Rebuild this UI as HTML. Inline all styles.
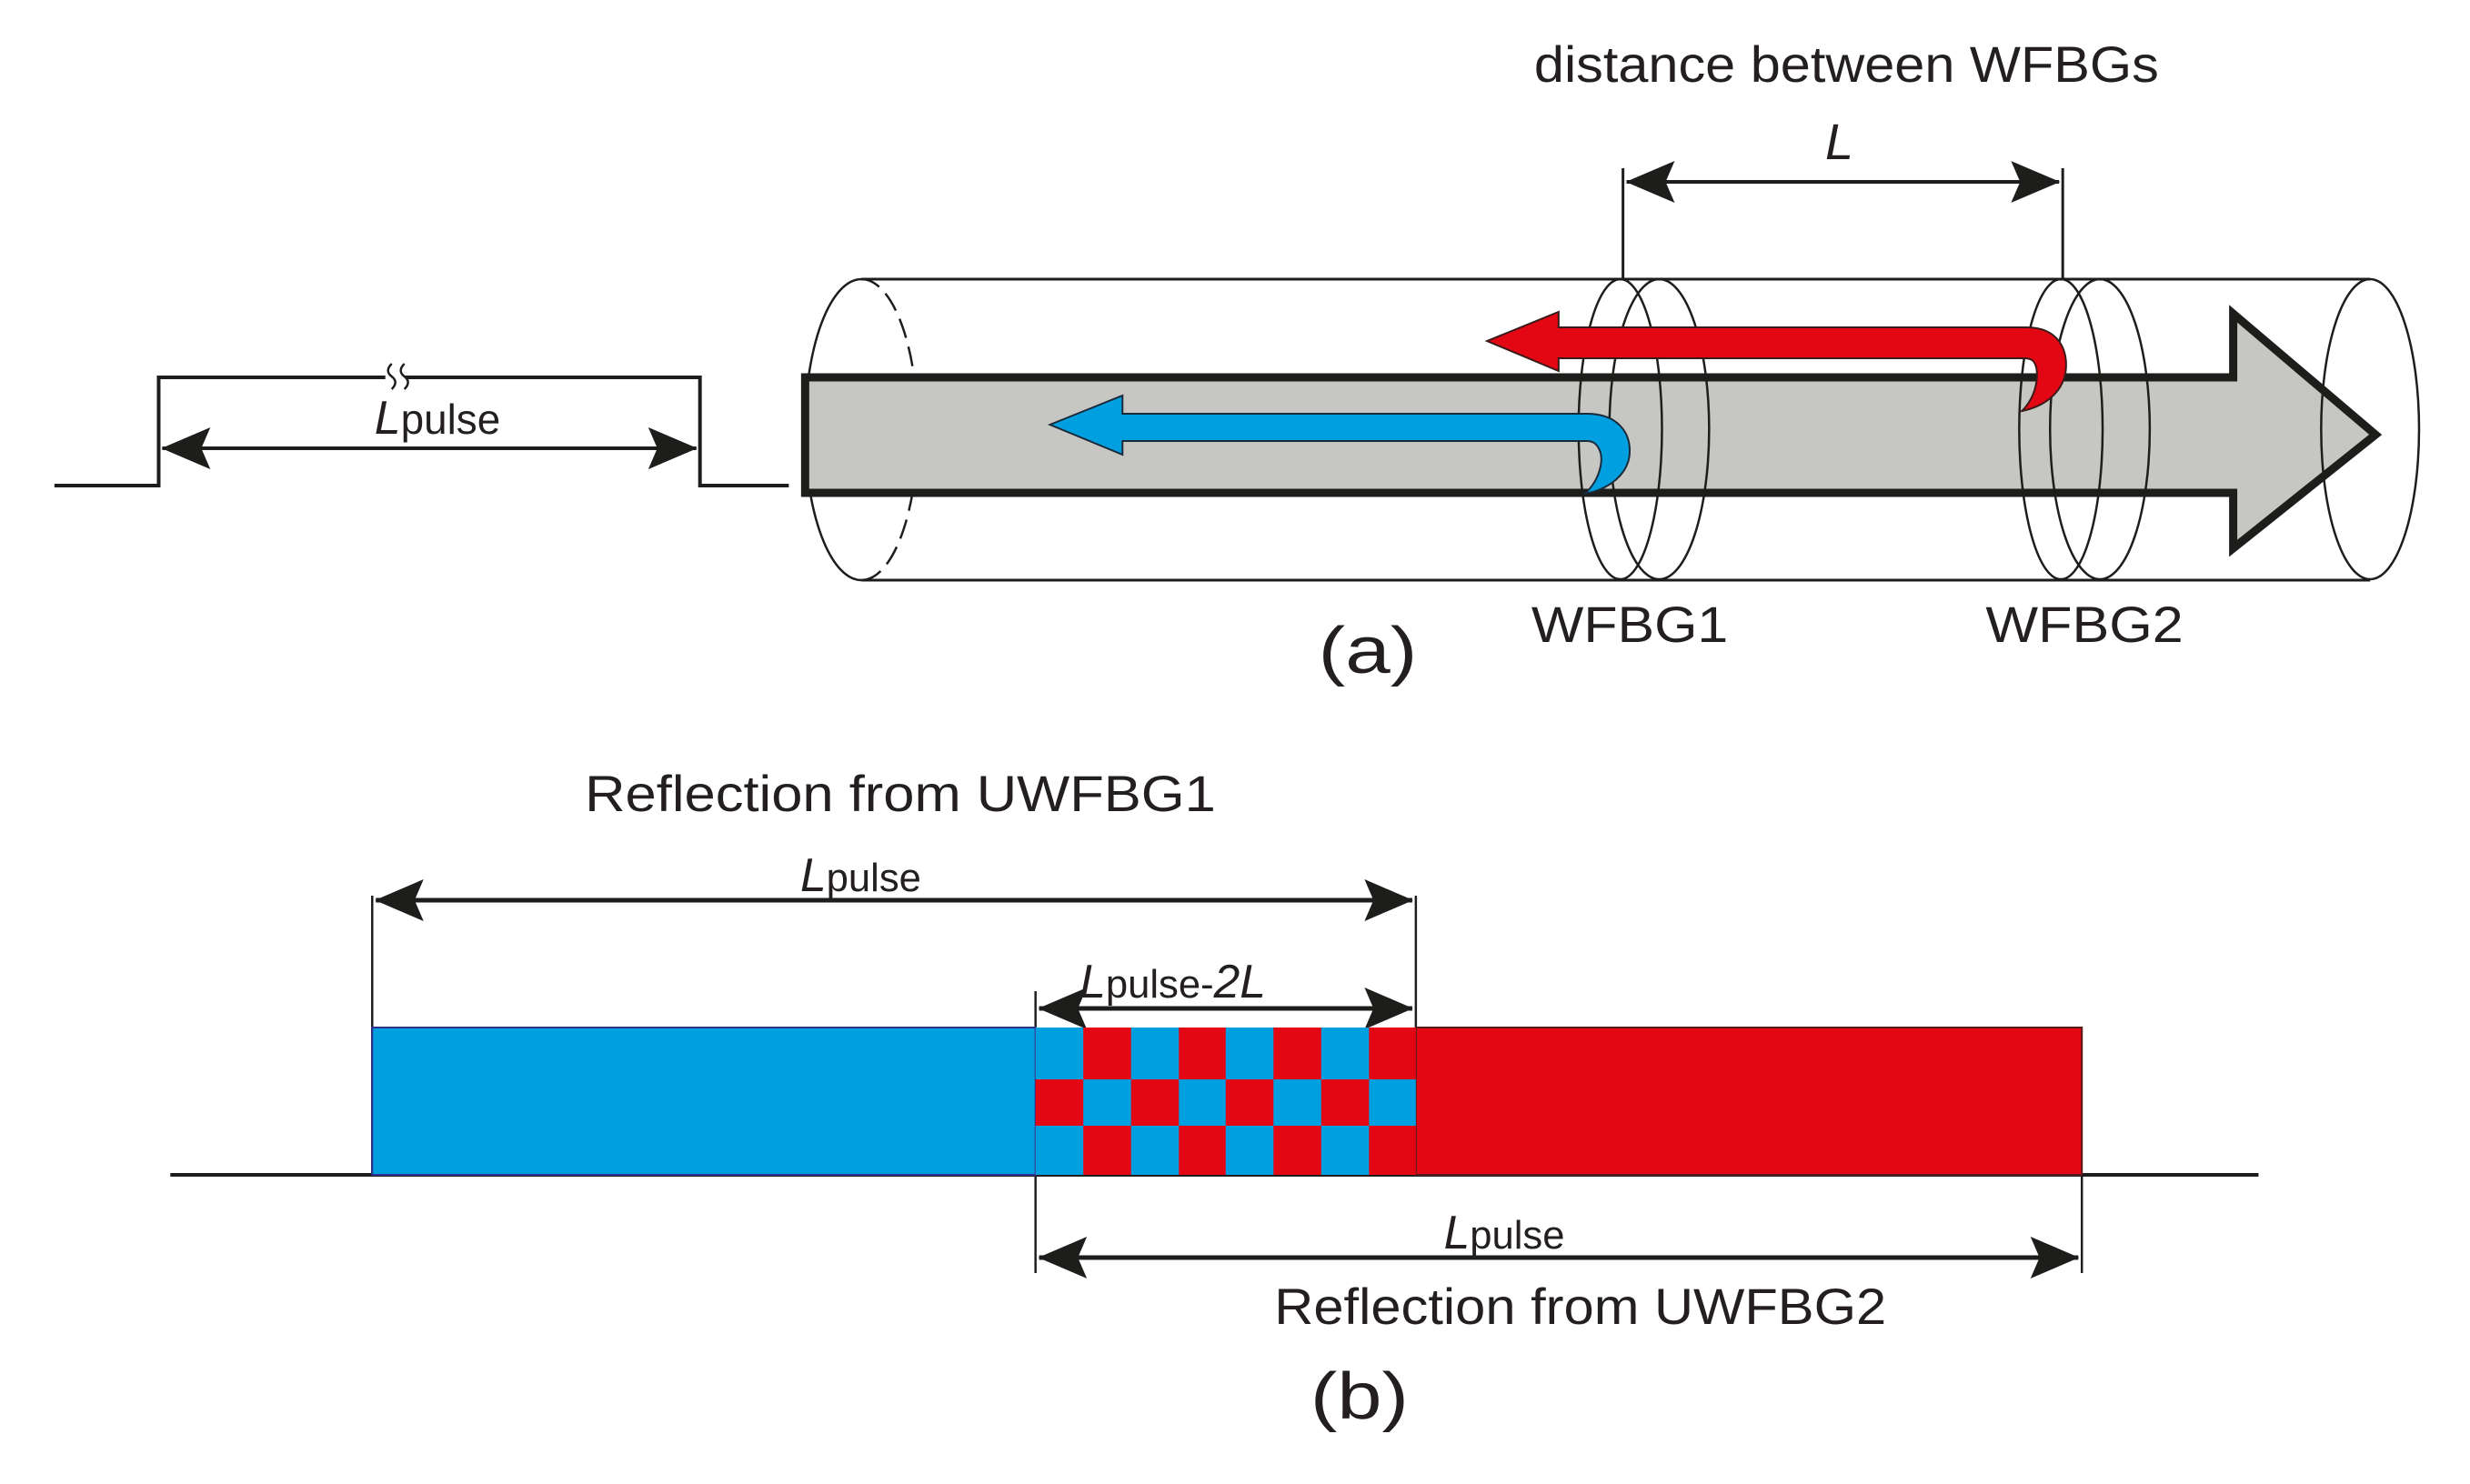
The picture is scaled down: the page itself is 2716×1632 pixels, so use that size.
<!DOCTYPE html>
<html><head><meta charset="utf-8"><style>
html,body{margin:0;padding:0;background:#fff;}
svg{display:block;}
text{font-family:"Liberation Sans",Arial,sans-serif;fill:#231f20;}
</style></head><body>
<svg width="2716" height="1632" viewBox="0 0 2716 1632" xmlns="http://www.w3.org/2000/svg">
<defs>
<marker id="ahb" viewBox="0 0 54 46" refX="53" refY="23" markerWidth="54" markerHeight="46" markerUnits="userSpaceOnUse" orient="auto-start-reverse">
<path d="M0,0 L54,23 L0,46 L10,23 Z" fill="#1d1d1b"/>
</marker>
</defs>
<g transform="scale(0.997,1)">
<text x="1692" y="90" font-size="56" textLength="689" lengthAdjust="spacingAndGlyphs">distance between WFBGs</text>
<text x="2013" y="175" font-size="56" font-style="italic">L</text>
<line x1="1790" y1="185" x2="1790" y2="307" stroke="#1d1d1b" stroke-width="3"/>
<line x1="2275" y1="185" x2="2275" y2="307" stroke="#1d1d1b" stroke-width="3"/>
<line x1="1794" y1="200" x2="2271" y2="200" stroke="#1d1d1b" stroke-width="4" marker-start="url(#ahb)" marker-end="url(#ahb)"/>

<polyline points="60,534 175,534 175,415 772,415 772,534 870,534" fill="none" stroke="#1d1d1b" stroke-width="4"/>
<rect x="425" y="405" width="22" height="20" fill="#fff"/>
<path d="M432,400 q-8,8 0,14 q8,6 0,14 M446,400 q-8,8 0,14 q8,6 0,14" fill="none" stroke="#1d1d1b" stroke-width="2.5"/>
<line x1="179" y1="493" x2="768" y2="493" stroke="#1d1d1b" stroke-width="4" marker-start="url(#ahb)" marker-end="url(#ahb)"/>
<text x="413" y="477" font-size="46"><tspan font-style="italic" font-size="52">L</tspan>pulse</text>

<line x1="950" y1="307" x2="2614" y2="307" stroke="#1d1d1b" stroke-width="3"/>
<line x1="950" y1="638" x2="2614" y2="638" stroke="#1d1d1b" stroke-width="3"/>
<path d="M950,307 A62,165 0 0 0 950,638" fill="none" stroke="#1d1d1b" stroke-width="2.5"/>
<path d="M950,307 A62,165 0 0 1 950,638" fill="none" stroke="#1d1d1b" stroke-width="2.5" stroke-dasharray="22,10"/>

<path d="M888,415 L2463,415 L2463,345 L2620,478 L2463,603 L2463,542 L888,542 Z" fill="#c6c6c2" stroke="#1d1d1b" stroke-width="9" stroke-linejoin="miter"/>

<g fill="none" stroke="#1d1d1b" stroke-width="2.5">
<ellipse cx="1787" cy="472" rx="46" ry="165"/>
<ellipse cx="1830" cy="472" rx="55" ry="165"/>
<ellipse cx="2273" cy="472" rx="46" ry="165"/>
<ellipse cx="2316" cy="472" rx="55" ry="165"/>
<ellipse cx="2614" cy="472" rx="54" ry="165"/>
</g>

<path d="M1640,375 L1719,343 L1719,360 L2235,360 C2270,360 2282,385 2278,410 C2274,432 2255,447 2230,452 C2245,437 2248,417 2246,405 C2244,396 2240,394 2232,394 L1719,394 L1719,408 Z" fill="#e30613" stroke="#3a1a1a" stroke-width="2"/>
<path d="M1158,467 L1238,435 L1238,455 L1750,455 C1785,455 1800,477 1797,502 C1794,522 1775,538 1748,543 C1765,527 1768,507 1765,497 C1762,489 1758,485 1750,485 L1238,485 L1238,500 Z" fill="#009fe0" stroke="#1a2a3a" stroke-width="2"/>

<text x="1689" y="706" font-size="56" textLength="217" lengthAdjust="spacingAndGlyphs">WFBG1</text>
<text x="2190" y="706" font-size="56" textLength="218" lengthAdjust="spacingAndGlyphs">WFBG2</text>
<text x="1454" y="740" font-size="72" textLength="109" lengthAdjust="spacingAndGlyphs">(a)</text>
</g>

<g transform="scale(0.991,1)">
<text x="649" y="892" font-size="56" textLength="700" lengthAdjust="spacingAndGlyphs">Reflection from UWFBG1</text>
<line x1="413" y1="985" x2="413" y2="1292" stroke="#1d1d1b" stroke-width="2.5"/>
<line x1="1571" y1="985" x2="1571" y2="1130" stroke="#1d1d1b" stroke-width="2.5"/>
<line x1="1149" y1="1090" x2="1149" y2="1400" stroke="#1d1d1b" stroke-width="2.5"/>
<line x1="2310" y1="1292" x2="2310" y2="1400" stroke="#1d1d1b" stroke-width="2.5"/>
<line x1="417" y1="990" x2="1567" y2="990" stroke="#1d1d1b" stroke-width="5" marker-start="url(#ahb)" marker-end="url(#ahb)"/>
<line x1="1153" y1="1109" x2="1567" y2="1109" stroke="#1d1d1b" stroke-width="5" marker-start="url(#ahb)" marker-end="url(#ahb)"/>
<line x1="1153" y1="1383" x2="2306" y2="1383" stroke="#1d1d1b" stroke-width="5" marker-start="url(#ahb)" marker-end="url(#ahb)"/>
<text x="888" y="980" font-size="44"><tspan font-style="italic" font-size="52">L</tspan>pulse</text>
<text x="1198" y="1097" font-size="44"><tspan font-style="italic" font-size="52">L</tspan>pulse-<tspan font-style="italic" font-size="52">2L</tspan></text>
<text x="1602" y="1373" font-size="44"><tspan font-style="italic" font-size="52">L</tspan>pulse</text>

<line x1="189" y1="1292" x2="2506" y2="1292" stroke="#1d1d1b" stroke-width="4"/>
<rect x="413" y="1130" width="736" height="162" fill="#009fe0" stroke="#2e3192" stroke-width="2"/>
<rect x="1571" y="1130" width="739" height="162" fill="#e30613" stroke="#5a1a1a" stroke-width="2"/>
<rect x="1149" y="1130" width="422" height="162" fill="#e30613"/>
<g fill="#009fe0">
<rect x="1149" y="1130" width="53" height="57"/><rect x="1255" y="1130" width="53" height="57"/><rect x="1360" y="1130" width="53" height="57"/><rect x="1466" y="1130" width="53" height="57"/>
<rect x="1202" y="1187" width="53" height="51"/><rect x="1308" y="1187" width="52" height="51"/><rect x="1413" y="1187" width="53" height="51"/><rect x="1519" y="1187" width="52" height="51"/>
<rect x="1149" y="1238" width="53" height="54"/><rect x="1255" y="1238" width="53" height="54"/><rect x="1360" y="1238" width="53" height="54"/><rect x="1466" y="1238" width="53" height="54"/>
</g>
<text x="1414" y="1456" font-size="56" textLength="679" lengthAdjust="spacingAndGlyphs">Reflection from UWFBG2</text>
<text x="1454" y="1560" font-size="72" textLength="109" lengthAdjust="spacingAndGlyphs">(b)</text>
</g>
</svg>
</body></html>
